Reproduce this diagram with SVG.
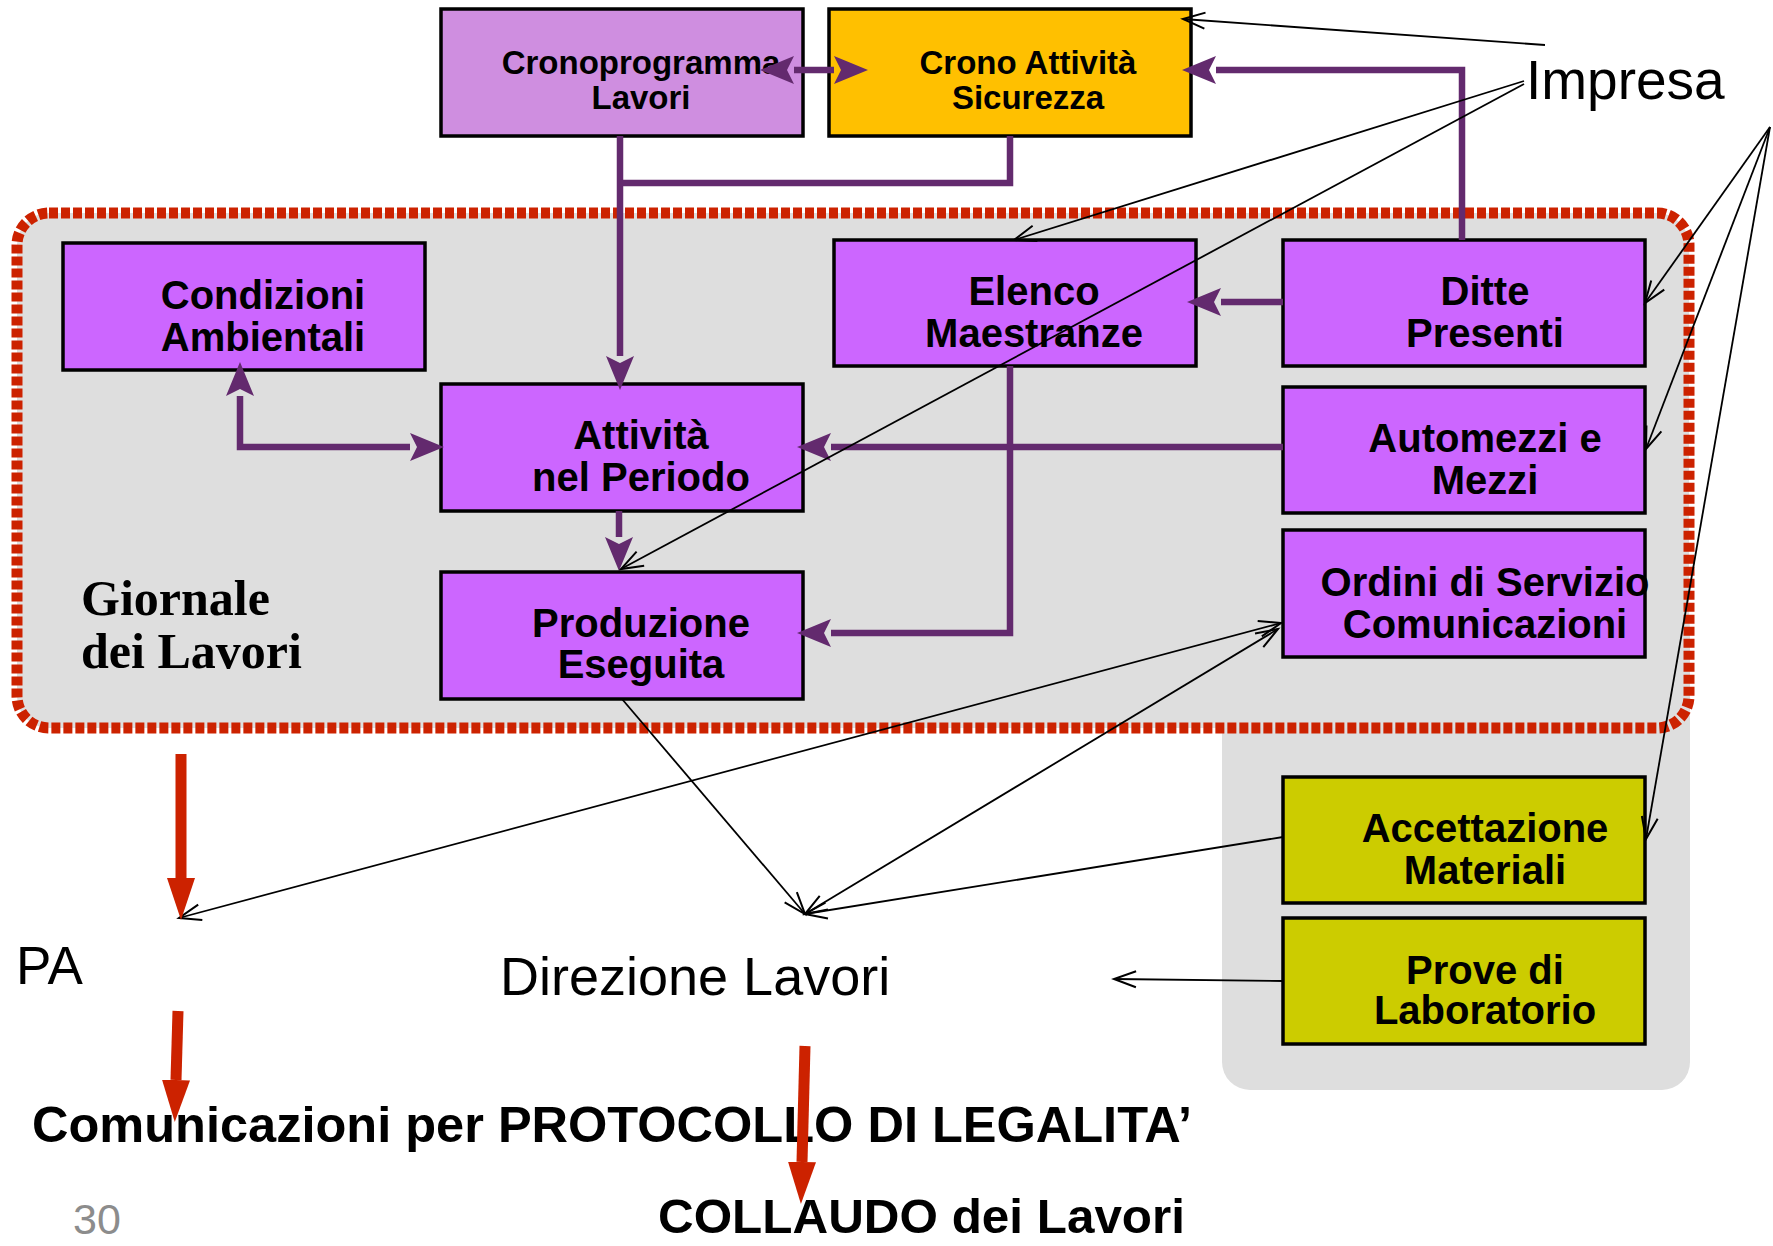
<svg xmlns="http://www.w3.org/2000/svg" width="1773" height="1246" viewBox="0 0 1773 1246">
<style>
.box{stroke:#000;stroke-width:3.5}
.pm{fill:#CC66FF}
.yl{fill:#CCCC00}
.lbl{font-family:"Liberation Sans",Arial,sans-serif;font-weight:bold;font-size:40px;text-anchor:middle;fill:#000}
.lbl2{font-family:"Liberation Sans",Arial,sans-serif;font-weight:bold;font-size:33px;text-anchor:middle;fill:#000}
.pl{fill:none;stroke:#632A6E;stroke-width:6.5}
.bl{fill:none;stroke:#000;stroke-width:1.8}
.rd{fill:none;stroke:#CC2200;stroke-width:11}
.plain{font-family:"Liberation Sans",Arial,sans-serif;fill:#000}
</style>
<defs>
<marker id="pa" viewBox="0 -14 34 28" markerWidth="34" markerHeight="28" refX="0" refY="0" orient="auto-start-reverse" markerUnits="userSpaceOnUse">
<path d="M0,-14 L34,0 L0,14 L7,0 z" fill="#632A6E"/>
</marker>
<marker id="ba" viewBox="0 0 22 16" markerWidth="22" markerHeight="16" refX="22" refY="8" orient="auto-start-reverse" markerUnits="userSpaceOnUse" overflow="visible">
<path d="M0,0 L22,8 L0,16" fill="none" stroke="#000" stroke-width="2"/>
</marker>
<marker id="ra" viewBox="0 -14 42 28" markerWidth="42" markerHeight="28" refX="0" refY="0" orient="auto" markerUnits="userSpaceOnUse">
<path d="M0,-14 L42,0 L0,14 z" fill="#CC2200"/>
</marker>
</defs>

<g id="background">
<rect x="1222" y="600" width="468" height="490" rx="28" fill="#DEDEDE"/>
<rect x="17" y="213" width="1672" height="515" rx="32" fill="#DEDEDE"/>
<rect x="17" y="213" width="1672" height="515" rx="32" fill="none" stroke="#CC2200" stroke-width="11" stroke-dasharray="9 3"/>
</g>

<g id="cronoprogramma">
<rect class="box" x="441" y="9" width="362" height="127" fill="#CF8EE0"/>
<text class="lbl2" x="641" y="74">Cronoprogramma</text>
<text class="lbl2" x="641" y="109">Lavori</text>
</g>
<g id="crono-sicurezza">
<rect class="box" x="829" y="9" width="362" height="127" fill="#FFC000"/>
<text class="lbl2" x="1028" y="74">Crono Attività</text>
<text class="lbl2" x="1028" y="109">Sicurezza</text>
</g>
<g id="condizioni">
<rect class="box pm" x="63" y="243" width="362" height="127"/>
<text class="lbl" x="263" y="309">Condizioni</text>
<text class="lbl" x="263" y="351">Ambientali</text>
</g>
<g id="elenco">
<rect class="box pm" x="834" y="240" width="362" height="126"/>
<text class="lbl" x="1034" y="305">Elenco</text>
<text class="lbl" x="1034" y="347">Maestranze</text>
</g>
<g id="ditte">
<rect class="box pm" x="1283" y="240" width="362" height="126"/>
<text class="lbl" x="1485" y="305">Ditte</text>
<text class="lbl" x="1485" y="347">Presenti</text>
</g>
<g id="attivita">
<rect class="box pm" x="441" y="384" width="362" height="127"/>
<text class="lbl" x="641" y="449">Attività</text>
<text class="lbl" x="641" y="491">nel Periodo</text>
</g>
<g id="automezzi">
<rect class="box pm" x="1283" y="387" width="362" height="126"/>
<text class="lbl" x="1485" y="452">Automezzi e</text>
<text class="lbl" x="1485" y="494">Mezzi</text>
</g>
<g id="ordini">
<rect class="box pm" x="1283" y="530" width="362" height="127"/>
<text class="lbl" x="1485" y="596">Ordini di Servizio</text>
<text class="lbl" x="1485" y="638">Comunicazioni</text>
</g>
<g id="produzione">
<rect class="box pm" x="441" y="572" width="362" height="127"/>
<text class="lbl" x="641" y="637">Produzione</text>
<text class="lbl" x="641" y="678">Eseguita</text>
</g>
<g id="accettazione">
<rect class="box yl" x="1283" y="777" width="362" height="126"/>
<text class="lbl" x="1485" y="842">Accettazione</text>
<text class="lbl" x="1485" y="884">Materiali</text>
</g>
<g id="prove">
<rect class="box yl" x="1283" y="918" width="362" height="126"/>
<text class="lbl" x="1485" y="984">Prove di</text>
<text class="lbl" x="1485" y="1024">Laboratorio</text>
</g>

<g id="labels">
<text x="81" y="615" font-family="'Liberation Serif','Times New Roman',serif" font-weight="bold" font-size="50">Giornale</text>
<text x="81" y="668" font-family="'Liberation Serif','Times New Roman',serif" font-weight="bold" font-size="50">dei Lavori</text>
<text class="plain" x="1526" y="99" font-size="55">Impresa</text>
<text class="plain" x="16" y="984" font-size="53">PA</text>
<text class="plain" x="500" y="995" font-size="54">Direzione Lavori</text>
<text class="plain" x="32" y="1142" font-size="50" font-weight="bold" textLength="1160" lengthAdjust="spacingAndGlyphs">Comunicazioni per PROTOCOLLO DI LEGALITA’</text>
<text class="plain" x="658" y="1233" font-size="49" font-weight="bold" textLength="527" lengthAdjust="spacingAndGlyphs">COLLAUDO dei Lavori</text>
<text x="73" y="1234" font-family="'Liberation Sans',Arial,sans-serif" font-size="43" fill="#8C8C8C">30</text>
</g>

<g id="connectors">
<path class="pl" d="M794,70 L834,70" marker-start="url(#pa)" marker-end="url(#pa)"/>
<path class="pl" d="M620,136 L620,356" marker-end="url(#pa)"/>
<path class="pl" d="M1010,136 L1010,183 L620,183"/>
<path class="pl" d="M1462,240 L1462,70 L1216,70" marker-end="url(#pa)"/>
<path class="pl" d="M1283,302 L1221,302" marker-end="url(#pa)"/>
<path class="pl" d="M1283,447 L831,447" marker-end="url(#pa)"/>
<path class="pl" d="M1010,366 L1010,633 L831,633" marker-end="url(#pa)"/>
<path class="pl" d="M240,396 L240,447 L410,447" marker-start="url(#pa)" marker-end="url(#pa)"/>
<path class="pl" d="M619,511 L619,537" marker-end="url(#pa)"/>

<path class="bl" d="M1545,45 L1183,19" marker-end="url(#ba)"/>
<path class="bl" d="M1524,81 L1014,240" marker-end="url(#ba)"/>
<path class="bl" d="M1524,84 L621,569" marker-end="url(#ba)"/>
<path class="bl" d="M1770,127 L1645,303" marker-end="url(#ba)"/>
<path class="bl" d="M1770,127 L1646,449" marker-end="url(#ba)"/>
<path class="bl" d="M1770,127 L1646,839" marker-end="url(#ba)"/>
<path class="bl" d="M179,918 L1281,623" marker-start="url(#ba)" marker-end="url(#ba)"/>
<path class="bl" d="M805,914 L1278,629" marker-start="url(#ba)" marker-end="url(#ba)"/>
<path class="bl" d="M622,699 L805,914" marker-end="url(#ba)"/>
<path class="bl" d="M1283,837 L805,914" marker-end="url(#ba)"/>
<path class="bl" d="M1283,981 L1114,979" marker-end="url(#ba)"/>

<path class="rd" d="M181,754 L181,878" marker-end="url(#ra)"/>
<path class="rd" d="M178,1011 L176,1080" marker-end="url(#ra)"/>
<path class="rd" d="M805,1046 L802,1162" marker-end="url(#ra)"/>
</g>
</svg>
